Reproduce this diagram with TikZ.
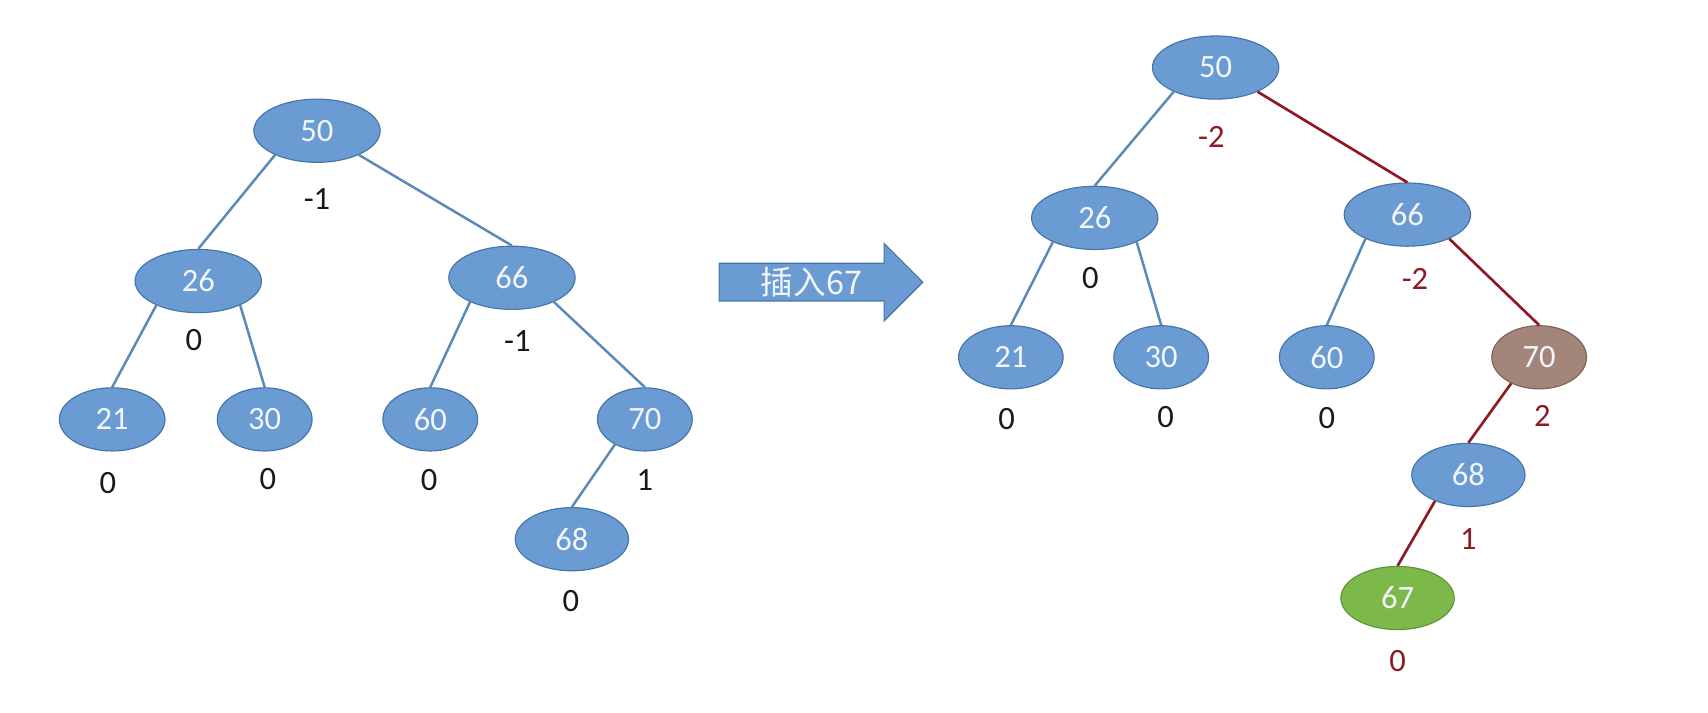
\documentclass[tikz,border=0pt]{standalone}
\usepackage{fontspec}
\setmainfont{Carlito}
\newfontfamily\cjk{Noto Sans CJK SC}
\usetikzlibrary{shapes.geometric,shapes.arrows}
\definecolor{nodefill}{HTML}{6A9BD3}
\definecolor{nodedraw}{HTML}{4575A8}
\definecolor{edgeblue}{HTML}{5A8AB8}
\definecolor{darkred}{HTML}{8E1B24}
\definecolor{brownfill}{HTML}{A3857A}
\definecolor{browndraw}{HTML}{7E6258}
\definecolor{greenfill}{HTML}{7CB84A}
\definecolor{greendraw}{HTML}{5C963A}
\definecolor{nodetext}{HTML}{F2F6FB}
\tikzset{
  every node/.style={font=\fontsize{17}{20}\selectfont},
  avl/.style={ellipse, draw=nodedraw, line width=0.6pt, fill=nodefill, text=nodetext, inner sep=0pt, minimum height=11.6mm},
  wide/.style={avl, minimum width=23.2mm},
  mid/.style={avl, minimum width=20.8mm},
  narrow/.style={avl, minimum width=17.4mm},
  hot/.style={fill=brownfill, draw=browndraw},
  fresh/.style={fill=greenfill, draw=greendraw},
  edge/.style={draw=edgeblue, line width=1.3pt},
  rededge/.style={draw=darkred, line width=1.4pt},
  bal/.style={text=black!90, inner sep=1pt},
  redbal/.style={bal, text=darkred},
  insertarrow/.style={single arrow, draw=nodedraw, line width=0.6pt, fill=nodefill, text=nodetext, inner sep=0pt, minimum height=37.4mm, minimum width=14.2mm, single arrow head extend=3.0mm, single arrow head indent=0pt, font=\cjk\fontsize{17}{20}\selectfont},
}
\begin{document}
\begin{tikzpicture}[x=0.2mm, y=-0.2mm]
\useasboundingbox (0,0) rectangle (1568,654);
% before insertion
\node[wide] (l50) at (291,120) {50};
\node[wide] (l26) at (182,258) {26};
\node[wide] (l66) at (470,255) {66};
\node[narrow, minimum width=19.4mm] (l21) at (103,385) {21};
\node[narrow] (l30) at (243,385) {30};
\node[narrow] (l60) at (395,385) {60};
\node[narrow] (l70) at (592,385) {70};
\node[mid] (l68) at (525,495) {68};
\draw[edge] (l50.-150) -- (l26.north);
\draw[edge] (l50.-30) -- (l66.north);
\draw[edge] (l26.-150) -- (l21.north);
\draw[edge] (l26.-30) -- (l30.north);
\draw[edge] (l66.-150) -- (l60.north);
\draw[edge] (l66.-30) -- (l70.north);
\draw[edge] (l70.-140) -- (l68.north);
\node[bal] (lb50) at (291,183) {-1};
\node[bal] (lb26) at (178,312) {0};
\node[bal] (lb21) at (99,443) {0};
\node[bal] (lb30) at (246,440) {0};
\node[bal] (lb66) at (475,313) {-1};
\node[bal] (lb60) at (394,441) {0};
\node[bal] (lb70) at (592,441) {1};
\node[bal] (lb68) at (524,552) {0};
% arrow
\node[insertarrow] (ins) at (745,259) {插入67};
% after insertion
\node[wide] (r50) at (1116,62) {50};
\node[wide] (r26) at (1005,200) {26};
\node[wide] (r66) at (1292,197) {66};
\node[narrow, minimum width=19.2mm] (r21) at (928,328) {21};
\node[narrow] (r30) at (1066,328) {30};
\node[narrow] (r60) at (1218,328) {60};
\node[narrow, hot] (r70) at (1413,328) {70};
\node[mid] (r68) at (1348,436) {68};
\node[mid, fresh] (r67) at (1283,549) {67};
\draw[edge] (r50.-150) -- (r26.north);
\draw[rededge] (r50.-30) -- (r66.north);
\draw[edge] (r26.-150) -- (r21.north);
\draw[edge] (r26.-30) -- (r30.north);
\draw[edge] (r66.-150) -- (r60.north);
\draw[rededge] (r66.-30) -- (r70.north);
\draw[rededge] (r70.-137) -- (r68.north);
\draw[rededge] (r68.-142) -- (r67.north);
\node[redbal] (rb50) at (1112,126) {-2};
\node[bal] (rb26) at (1001,255) {0};
\node[bal] (rb21) at (924,385) {0};
\node[bal] (rb30) at (1070,383) {0};
\node[redbal] (rb66) at (1299,256) {-2};
\node[bal] (rb60) at (1218,384) {0};
\node[redbal] (rb70) at (1416,382) {2};
\node[redbal] (rb68) at (1348,495) {1};
\node[redbal] (rb67) at (1283,607) {0};
\end{tikzpicture}
\end{document}
